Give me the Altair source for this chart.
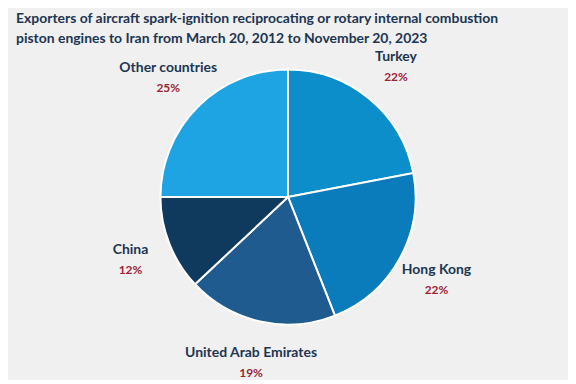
import altair as alt
import pandas as pd

countries = ["Turkey", "Hong Kong", "United Arab Emirates", "China", "Other countries"]
shares = [22, 22, 19, 12, 25]
pct_labels = ["22%", "22%", "19%", "12%", "25%"]
colors = ["#0b8eca", "#0a7cbc", "#1f5b8e", "#0f3a5e", "#1ea4e2"]
title_lines = [
    "Exporters of aircraft spark-ignition reciprocating or rotary internal combustion",
    "piston engines to Iran from March 20, 2012 to November 20, 2023",
]

df = pd.DataFrame({
    "country": countries,
    "share": shares,
    "pct": pct_labels,
    "order": list(range(len(countries))),
})

FONT = "Lato"
NAVY = "#1c3553"
RED = "#9b2335"

base = alt.Chart(df).encode(
    theta=alt.Theta("share:Q", stack=True),
    order=alt.Order("order:Q"),
)

pie = base.mark_arc(outerRadius=128, stroke="white", strokeWidth=2).encode(
    color=alt.Color("country:N", scale=alt.Scale(domain=countries, range=colors), legend=None)
)

names = base.mark_text(radius=170, dy=-9, font=FONT, fontWeight="bold", fontSize=14, color=NAVY).encode(
    text="country:N"
)
pcts = base.mark_text(radius=170, dy=11, font=FONT, fontWeight="bold", fontSize=12, color=RED).encode(
    text="pct:N"
)

chart = alt.layer(pie, names, pcts).properties(
    width=562,
    height=304,
    padding={"left": 0, "top": 3, "right": 0, "bottom": 0},
    background="#f0f0f0",
    title=alt.TitleParams(
        text=title_lines,
        anchor="start",
        font=FONT,
        fontSize=14,
        fontWeight="bold",
        color=NAVY,
        lineHeight=20,
        offset=0,
        dx=8,
    ),
).configure_view(stroke=None)

chart.save("out.html", embed_options={"renderer": "svg", "actions": False})
